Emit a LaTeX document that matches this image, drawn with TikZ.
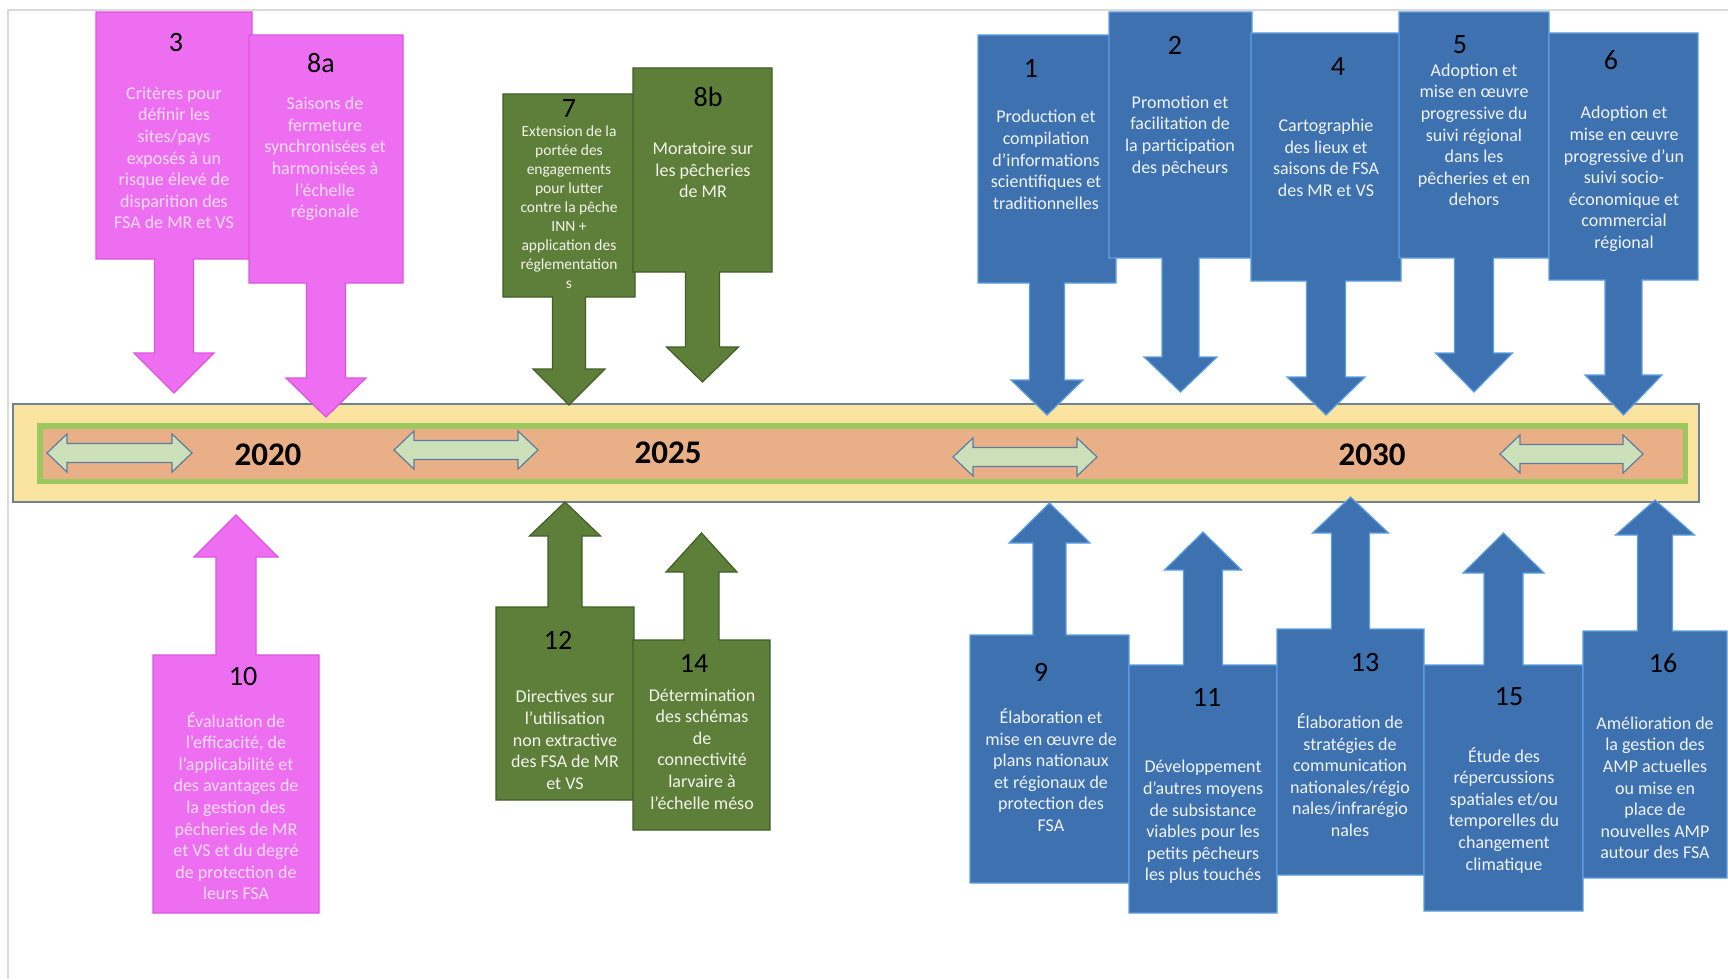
\documentclass[tikz,border=0pt]{standalone}
\usepackage{fontspec}
\setmainfont{Carlito}

\definecolor{pinkfill}{RGB}{237,110,240}
\definecolor{pinkline}{RGB}{222,84,224}
\definecolor{pinktext}{RGB}{252,222,252}
\definecolor{greenfill}{RGB}{94,127,58}
\definecolor{greenline}{RGB}{66,94,38}
\definecolor{greentext}{RGB}{244,244,236}
\definecolor{bluefill}{RGB}{62,113,176}
\definecolor{blueline}{RGB}{92,160,226}
\definecolor{bluetext}{RGB}{240,244,250}
\definecolor{bandfill}{RGB}{251,228,160}
\definecolor{bandline}{RGB}{110,130,150}
\definecolor{bandgreen}{RGB}{155,201,96}
\definecolor{bandorange}{RGB}{233,175,135}
\definecolor{dblfill}{RGB}{204,224,186}
\definecolor{dblline}{RGB}{95,125,160}
\definecolor{framegray}{RGB}{218,218,218}

% box with one arrow leaving its side y2: style, x1, y1, x2, y2, shaft, head, head y, tip y
\newcommand{\arrowbox}[9]{%
\draw[#1] (#2,#3) -- (#4,#3) -- (#4,#5) -- ({(#2+#4)/2+#6},#5) -- ({(#2+#4)/2+#6},#8)
 -- ({(#2+#4)/2+#7},#8) -- ({(#2+#4)/2},#9) -- ({(#2+#4)/2-#7},#8) -- ({(#2+#4)/2-#6},#8)
 -- ({(#2+#4)/2-#6},#5) -- (#2,#5) -- cycle;}

\begin{document}
\begin{tikzpicture}[x=1pt,y=-1pt,
  pinkbox/.style={fill=pinkfill,draw=pinkline,line width=1.2pt},
  greenbox/.style={fill=greenfill,draw=greenline,line width=1.2pt},
  bluebox/.style={fill=bluefill,draw=blueline,line width=1.2pt},
  num/.style={font=\fontsize{28}{30}\selectfont,text=black,inner sep=0pt},
  desc/.style={font=\fontsize{18}{21.6}\selectfont,align=center,inner sep=0pt},
  year/.style={font=\fontsize{33}{36}\selectfont\bfseries,inner sep=0pt}]
\useasboundingbox (0,0) rectangle (1728,979);
\fill[white] (0,0) rectangle (1728,979);
\draw[framegray,line width=2pt] (8,979) -- (8,10) -- (1728,10);

% timeline band
\draw[fill=bandfill,draw=bandline,line width=1.5pt] (13,404) rectangle (1699,502);
\draw[fill=bandorange,draw=bandgreen,line width=5.5pt] (39.75,425.75) rectangle (1685.25,481.25);
\foreach \xa/\xb/\cy in {47/192/453, 394/538/450, 953/1097/457, 1500/1643/454}{
\draw[fill=dblfill,draw=dblline,line width=1.2pt] (\xa,\cy) -- (\xa+20,\cy-19) -- (\xa+20,\cy-9.5)
 -- (\xb-20,\cy-9.5) -- (\xb-20,\cy-19) -- (\xb,\cy) -- (\xb-20,\cy+19) -- (\xb-20,\cy+9.5)
 -- (\xa+20,\cy+9.5) -- (\xa+20,\cy+19) -- cycle;}
\node[year] (y2020) at (268,455) {2020};
\node[year] (y2025) at (668,453) {2025};
\node[year] (y2030) at (1372,455) {2030};

% pink
\arrowbox{pinkbox}{96}{12}{252}{259}{19.5}{40}{353}{393}
\node[num] (n3) at (176,43) {3};
\node[desc,text=pinktext] (t3) at (174,158) {Critères pour\\définir les\\sites/pays\\exposés à un\\risque élevé de\\disparition des\\FSA de MR et VS};
\arrowbox{pinkbox}{249}{35}{403}{283}{19.5}{40}{378}{417}
\node[num] (n8a) at (321,63) {8a};
\node[desc,text=pinktext] (t8a) at (325,159) {Saisons de\\fermeture\\synchronisées et\\harmonisées à\\l’échelle\\régionale};
\arrowbox{pinkbox}{153}{913}{319}{655}{20}{42}{557}{515}
\node[num] (n10) at (243,677) {10};
\node[desc,text=pinktext] (t10) at (236,806) {Évaluation de\\l’efficacité, de\\l’applicabilité et\\des avantages de\\la gestion des\\pêcheries de MR\\et VS et du degré\\de protection de\\leurs FSA};

% green
\arrowbox{greenbox}{503}{94}{635}{297}{16.5}{36}{369}{405}
\node[num] (n7) at (569,109) {7};
\node[desc,text=greentext,font=\fontsize{15.5}{19}\selectfont] (t7) at (569,207) {Extension de la\\portée des\\engagements\\pour lutter\\contre la pêche\\INN +\\application des\\réglementation\\s};
\arrowbox{greenbox}{633}{68}{772}{272}{17}{36}{347}{382}
\node[num] (n8b) at (708,97) {8b};
\node[desc,text=greentext] (t8b) at (703,170) {Moratoire sur\\les pêcheries\\de MR};
\arrowbox{greenbox}{496}{800}{634}{607}{17}{35.5}{536}{502}
\node[num] (n12) at (558,640) {12};
\node[desc,text=greentext] (t12) at (565,740) {Directives sur\\l’utilisation\\non extractive\\des FSA de MR\\et VS};
\arrowbox{greenbox}{633}{830}{770}{640}{17.5}{35.5}{572}{533}
\node[num] (n14) at (694,663) {14};
\node[desc,text=greentext] (t14) at (702,749) {Détermination\\des schémas\\de\\connectivité\\larvaire à\\l’échelle méso};

% blue, top
\arrowbox{bluebox}{978}{35}{1116}{283}{17.5}{36}{380}{415}
\node[num] (n1) at (1031,68) {1};
\node[desc,text=bluetext] (t1) at (1046,160) {Production et\\compilation\\d’informations\\scientifiques et\\traditionnelles};
\arrowbox{bluebox}{1109}{12}{1252}{258}{18.5}{36.5}{357}{392}
\node[num] (n2) at (1175,45) {2};
\node[desc,text=bluetext] (t2) at (1180,136) {Promotion et\\facilitation de\\la participation\\des pêcheurs};
\arrowbox{bluebox}{1251}{33}{1401}{281}{19.5}{39}{377}{415}
\node[num] (n4) at (1338,67) {4};
\node[desc,text=bluetext] (t4) at (1326,158) {Cartographie\\des lieux et\\saisons de FSA\\des MR et VS};
\arrowbox{bluebox}{1399}{12}{1549}{258}{19.5}{38.5}{353}{392}
\node[num] (n5) at (1460,45) {5};
\node[desc,text=bluetext] (t5) at (1474,135) {Adoption et\\mise en œuvre\\progressive du\\suivi régional\\dans les\\pêcheries et en\\dehors};
\arrowbox{bluebox}{1549}{33}{1698}{280}{18.5}{38.5}{375}{415}
\node[num] (n6) at (1611,60) {6};
\node[desc,text=bluetext] (t6) at (1624,179) {Adoption et\\mise en œuvre\\progressive d’un\\suivi socio-\\économique et\\commercial\\régional};

% blue, bottom
\arrowbox{bluebox}{970}{883}{1129}{635}{16.5}{40.5}{543}{503}
\node[num] (n9) at (1041,672) {9};
\node[desc,text=bluetext] (t9) at (1051,770) {Élaboration et\\mise en œuvre de\\plans nationaux\\et régionaux de\\protection des\\FSA};
\arrowbox{bluebox}{1129}{913}{1277}{665}{19.5}{38.5}{570}{532}
\node[num] (n11) at (1207,697) {11};
\node[desc,text=bluetext] (t11) at (1203,822) {Développement\\d’autres moyens\\de subsistance\\viables pour les\\petits pêcheurs\\les plus touchés};
\arrowbox{bluebox}{1277}{875}{1424}{629}{19}{38}{533}{497}
\node[num] (n13) at (1365,663) {13};
\node[desc,text=bluetext] (t13) at (1350,775) {Élaboration de\\stratégies de\\communication\\nationales/régio\\nales/infrarégio\\nales};
\arrowbox{bluebox}{1424}{911}{1583}{665}{19.5}{40.5}{573}{533}
\node[num] (n15) at (1509,697) {15};
\node[desc,text=bluetext] (t15) at (1504,810) {Étude des\\répercussions\\spatiales et/ou\\temporelles du\\changement\\climatique};
\arrowbox{bluebox}{1583}{878}{1727}{631}{17.5}{39.5}{535}{500}
\node[num] (n16) at (1663,663) {16};
\node[desc,text=bluetext] (t16) at (1655,788) {Amélioration de\\la gestion des\\AMP actuelles\\ou mise en\\place de\\nouvelles AMP\\autour des FSA};
\end{tikzpicture}
\end{document}
